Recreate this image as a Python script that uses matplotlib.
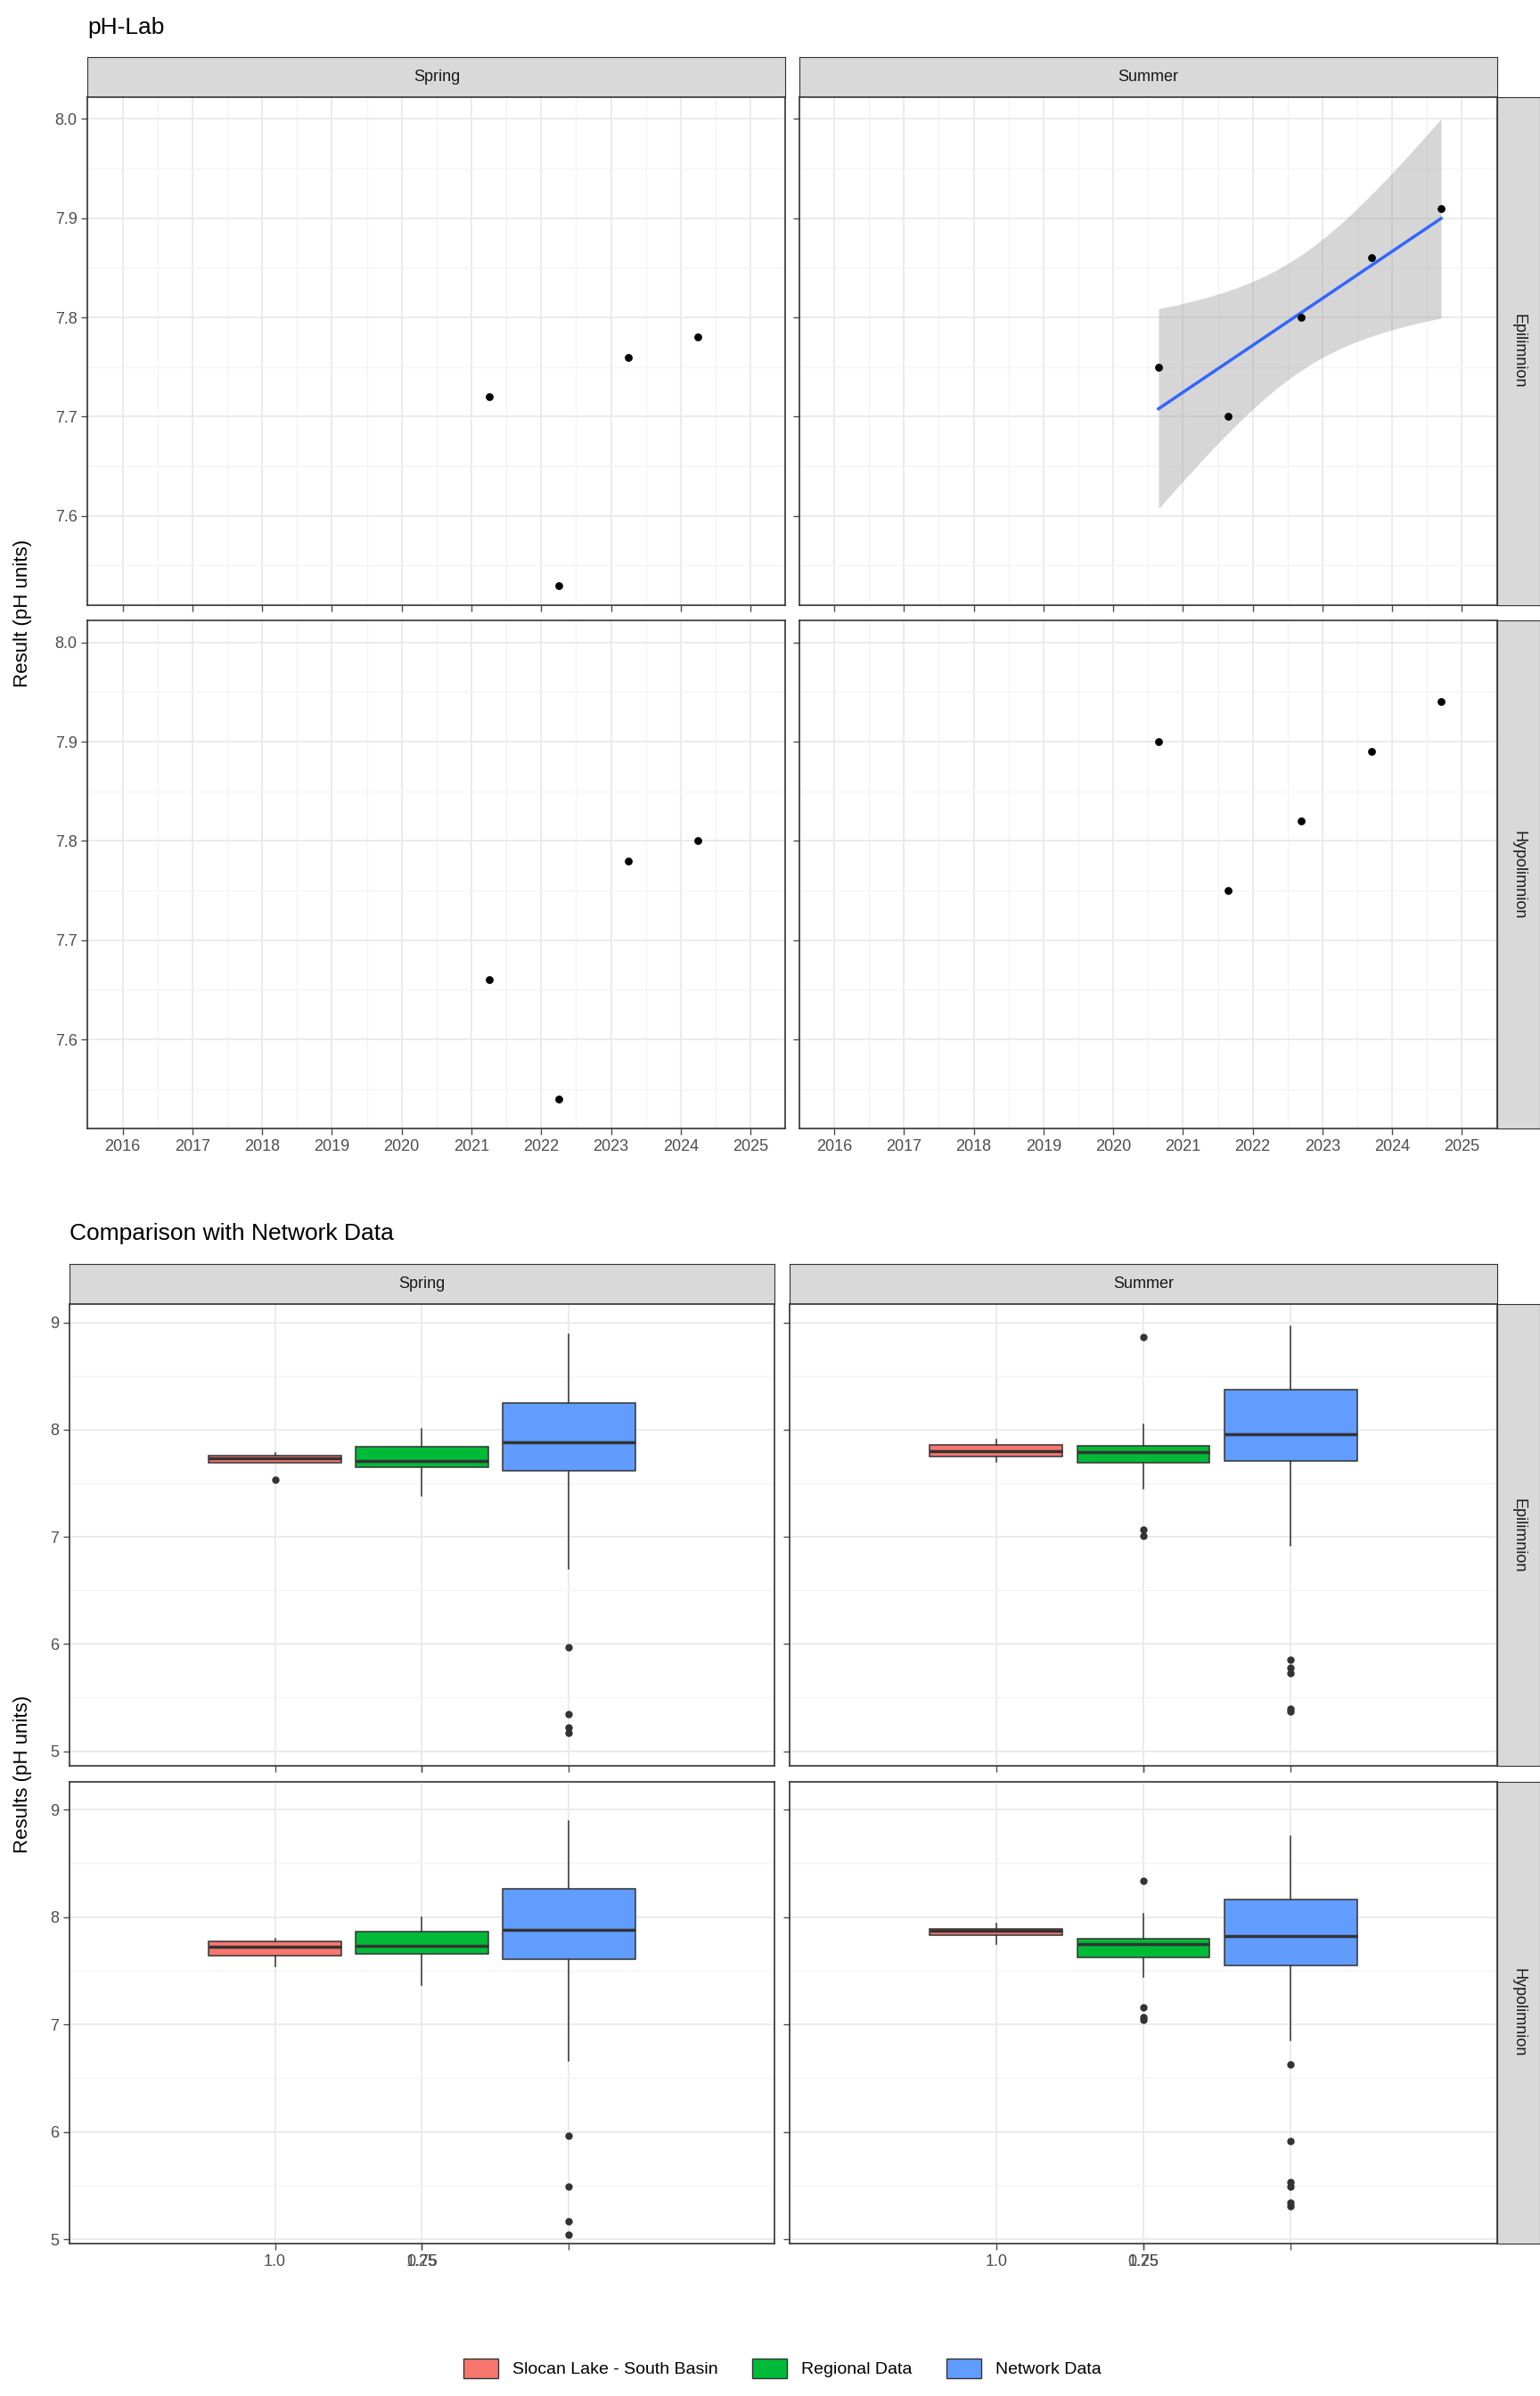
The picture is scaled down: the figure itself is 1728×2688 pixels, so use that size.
import numpy as np
import matplotlib
matplotlib.use("Agg")
import matplotlib.pyplot as plt
from matplotlib.patches import Patch, Rectangle

# ---------- data ----------
spring_years = [2021.25, 2022.25, 2023.25, 2024.25]
summer_years = [2020.65, 2021.65, 2022.7, 2023.7, 2024.7]
spring_epi = [7.72, 7.53, 7.76, 7.78]
summer_epi = [7.75, 7.70, 7.80, 7.86, 7.91]
spring_hypo = [7.66, 7.54, 7.78, 7.80]
summer_hypo = [7.90, 7.75, 7.82, 7.89, 7.94]
year_ticks = list(range(2016, 2026))
T_975_DF3 = 3.182

groups = ["Slocan Lake - South Basin", "Regional Data", "Network Data"]
colors = ["#F8766D", "#00BA38", "#619CFF"]
# (q1, med, q3, whislo, whishi, fliers)
box_spring_epi = [(7.69, 7.73, 7.76, 7.69, 7.78, [7.53]),
                  (7.65, 7.71, 7.84, 7.38, 8.01, []),
                  (7.62, 7.88, 8.25, 6.70, 8.89, [5.97, 5.35, 5.22, 5.17])]
box_summer_epi = [(7.75, 7.80, 7.86, 7.70, 7.91, []),
                  (7.69, 7.79, 7.85, 7.45, 8.05, [8.86, 7.07, 7.01]),
                  (7.71, 7.96, 8.37, 6.92, 8.96, [5.85, 5.78, 5.73, 5.40, 5.37])]
box_spring_hypo = [(7.64, 7.72, 7.77, 7.54, 7.80, []),
                   (7.66, 7.73, 7.86, 7.37, 8.00, []),
                   (7.61, 7.88, 8.26, 6.66, 8.89, [5.96, 5.49, 5.17, 5.04])]
box_summer_hypo = [(7.83, 7.87, 7.89, 7.75, 7.94, []),
                   (7.62, 7.75, 7.80, 7.44, 8.03, [8.34, 7.16, 7.07, 7.04]),
                   (7.55, 7.82, 8.16, 6.85, 8.75, [6.63, 5.91, 5.53, 5.49, 5.34, 5.31])]

W, H = 1000.0, 1556.0
fig = plt.figure(figsize=(17.28, 26.88), dpi=100)
plt.rcParams["font.family"] = "Liberation Sans"

def rect(x0, y0, x1, y1):
    return [x0 / W, 1 - y1 / H, (x1 - x0) / W, (y1 - y0) / H]

def style(ax):
    ax.set_facecolor("white")
    for s in ax.spines.values():
        s.set_color("#333333"); s.set_linewidth(1.2)
    ax.grid(True, which="major", color="#EBEBEB", lw=1.4)
    ax.grid(True, which="minor", color="#F3F3F3", lw=0.9)
    ax.set_axisbelow(True)
    ax.tick_params(labelsize=13, colors="#4D4D4D", length=5, width=1, which="major")
    ax.tick_params(which="minor", length=0)

def strip_top(x0, x1, y0, y1, text):
    a = fig.add_axes(rect(x0, y0, x1, y1))
    a.set_facecolor("#D9D9D9"); a.set_xticks([]); a.set_yticks([])
    for s in a.spines.values(): s.set_color("#333333")
    a.text(0.5, 0.5, text, ha="center", va="center", fontsize=13, color="#1A1A1A")

def strip_right(x0, x1, y0, y1, text):
    a = fig.add_axes(rect(x0, y0, x1, y1))
    a.set_facecolor("#D9D9D9"); a.set_xticks([]); a.set_yticks([])
    for s in a.spines.values(): s.set_color("#333333")
    a.text(0.5, 0.5, text, ha="center", va="center", fontsize=13, rotation=-90, color="#1A1A1A")

# ---------- top section ----------
fig.text(57 / W, 1 - 18 / H, "pH-Lab", fontsize=19, va="center")
cols = [(57, 510), (519, 972)]
rows = [(63, 393), (403, 733)]
pdata = [[(spring_years, spring_epi), (summer_years, summer_epi)],
         [(spring_years, spring_hypo), (summer_years, summer_hypo)]]
for c, t in zip(cols, ["Spring", "Summer"]):
    strip_top(c[0], c[1], 37, 63, t)
for r, t in zip(rows, ["Epilimnion", "Hypolimnion"]):
    strip_right(972, 1000, r[0], r[1], t)
for i, r in enumerate(rows):
    for j, c in enumerate(cols):
        ax = fig.add_axes(rect(c[0], r[0], c[1], r[1]))
        style(ax)
        xs, ys = pdata[i][j]
        ax.set_xlim(2015.56, 2025.46); ax.set_ylim(7.51, 8.022)
        ax.set_xticks(year_ticks)
        ax.set_xticks(np.arange(2015.5, 2025.6, 1.0), minor=True)
        ax.set_yticks([7.6, 7.7, 7.8, 7.9, 8.0])
        ax.set_yticks(np.arange(7.55, 8.01, 0.1), minor=True)
        if i == 0:
            ax.tick_params(labelbottom=False)
        if j == 1:
            ax.tick_params(labelleft=False)
        if i == 0 and j == 1:
            x = np.array(xs); y = np.array(ys)
            n = len(x); b, a0 = np.polyfit(x, y, 1)
            res = y - (a0 + b * x); s = np.sqrt(np.sum(res ** 2) / (n - 2))
            xg = np.linspace(x.min(), x.max(), 80)
            se = s * np.sqrt(1 / n + (xg - x.mean()) ** 2 / np.sum((x - x.mean()) ** 2))
            yg = a0 + b * xg
            ax.fill_between(xg, yg - T_975_DF3 * se, yg + T_975_DF3 * se, color="#999999", alpha=0.4, lw=0)
            ax.plot(xg, yg, color="#3366FF", lw=2.5)
        ax.scatter(xs, ys, s=28, color="black", zorder=5)
fig.text(15 / W, 1 - 398 / H, "Result (pH units)", rotation=90, fontsize=16, ha="center", va="center")

# ---------- bottom section ----------
fig.text(45 / W, 1 - 801 / H, "Comparison with Network Data", fontsize=19, va="center")
cols2 = [(45, 503), (513, 972)]
rows2 = [(847, 1147), (1157, 1457)]
bdata = [[box_spring_epi, box_summer_epi], [box_spring_hypo, box_summer_hypo]]
for c, t in zip(cols2, ["Spring", "Summer"]):
    strip_top(c[0], c[1], 821, 847, t)
for r, t in zip(rows2, ["Epilimnion", "Hypolimnion"]):
    strip_right(972, 1000, r[0], r[1], t)
positions = [0.75, 1.0, 1.25]
for i, r in enumerate(rows2):
    for j, c in enumerate(cols2):
        ax = fig.add_axes(rect(c[0], r[0], c[1], r[1]))
        style(ax)
        ax.set_xlim(0.4, 1.6)
        ax.set_ylim(4.86, 9.17) if i == 0 else ax.set_ylim(4.96, 9.26)
        ax.set_xticks([1.0]); ax.set_xticklabels(["pH-Lab"])
        ax.set_yticks([5, 6, 7, 8, 9])
        ax.set_yticks([5.5, 6.5, 7.5, 8.5], minor=True)
        if i == 0:
            ax.tick_params(labelbottom=False)
        if j == 1:
            ax.tick_params(labelleft=False)
        stats = []
        for (q1, med, q3, lo, hi, fl) in bdata[i][j]:
            stats.append(dict(q1=q1, med=med, q3=q3, whislo=lo, whishi=hi, fliers=fl))
        bp = ax.bxp(stats, positions=positions, widths=0.225, patch_artist=True,
                    showcaps=False,
                    medianprops=dict(color="#333333", lw=2.5),
                    whiskerprops=dict(color="#333333", lw=1.1),
                    boxprops=dict(edgecolor="#333333", lw=1.1),
                    flierprops=dict(marker="o", markerfacecolor="#333333",
                                    markeredgecolor="#333333", markersize=5))
        for p, col in zip(bp["boxes"], colors):
            p.set_facecolor(col)
fig.text(15 / W, 1 - 1152 / H, "Results (pH units)", rotation=90, fontsize=16, ha="center", va="center")

handles = [Patch(facecolor=col, edgecolor="#333333", label=g) for g, col in zip(groups, colors)]
fig.legend(handles=handles, loc="center", bbox_to_anchor=(0.508, 1 - 1538 / H), ncol=3,
           frameon=False, fontsize=14, handlelength=2.0, handleheight=1.3, columnspacing=2.0)

fig.savefig("out.png", dpi=100, facecolor="white")
